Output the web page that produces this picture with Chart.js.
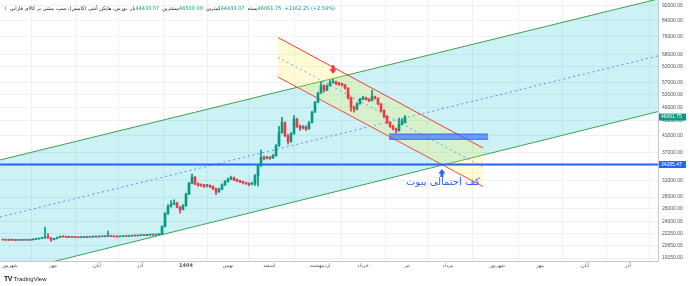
<!DOCTYPE html>
<html>
<head>
<meta charset="utf-8">
<script src="https://cdn.jsdelivr.net/npm/chart.js@4.4.1/dist/chart.umd.min.js"></script>
<style>
  html, body { margin: 0; padding: 0; background: #fff; }
  #wrap { position: relative; width: 690px; height: 286px; overflow: hidden; }
  #legend { position: absolute; left: 4px; top: 5px; font: 5px "DejaVu Sans", sans-serif; color: #131722; white-space: nowrap; direction: ltr; }
  #legend span { display: inline-block; margin-right: 3px; }
  #legend .v { color: #089981; margin-right: 0; }
  #brand { position: absolute; left: 4px; top: 275px; font: 6px "Liberation Sans", sans-serif; color: #131722; white-space: nowrap; }
  #brand b { font-weight: 900; font-size: 7px; letter-spacing: -0.5px; }
</style>
</head>
<body>
<div id="wrap">
  <canvas id="chart" width="690" height="286"></canvas>
  <div id="legend"></div>
  <div id="brand"><b>TV</b> TradingView</div>
</div>
<script>
// daily Heikin Ashi candles, one per bar index
const opens = [
  21450, 21420, 21400, 21430, 21410, 21380, 21400, 21390, 21420, 21400,
  21440, 21500, 21560, 21620, 21700, 21850, 21700, 21500, 21600, 21750,
  21900, 21850, 21800, 21780, 21800, 21760, 21740, 21780, 21800, 21790,
  21830, 21860, 21840, 21870, 21900, 21880, 21950, 21900, 21860, 21850,
  21880, 21920, 21900, 21950, 22000, 21980, 22020, 22060, 22040, 22080,
  22120, 22100, 22150, 22200, 23300, 25200, 26400, 26800, 27000, 26300,
  25900, 26500, 28500, 30500, 31700, 30400, 30200, 30100, 30000, 30100,
  29900, 29500, 28900, 29400, 30200, 30800, 31300, 31600, 31200, 31000,
  30800, 30600, 30500, 30300, 30500, 32000, 34000, 35800, 35600, 35900,
  35700, 36200, 38500, 41800, 44500, 41000, 39500, 41500, 45500, 43500,
  43000, 43400, 42800, 44500, 47500, 50500, 53500, 56000, 54500, 56000,
  57000, 57400, 56800, 56500, 56300, 55200, 52000, 49000, 48400, 50000,
  51500, 52000, 51500, 51000, 52300, 51800, 50000, 48000, 46300, 44500,
  43500, 42800, 42300, 44000, 44433.07
];
const highs = [
  21480, 21440, 21470, 21450, 21430, 21430, 21420, 21450, 21440, 21470,
  21530, 21600, 21660, 21760, 23200, 22300, 21750, 21640, 21800, 21950,
  21940, 21880, 21830, 21840, 21820, 21790, 21810, 21840, 21830, 21860,
  21900, 21890, 21900, 21940, 21920, 22650, 21990, 21930, 21890, 21910,
  21960, 21950, 21990, 22050, 22030, 22060, 22100, 22090, 22120, 22160,
  22150, 22190, 22260, 23400, 25400, 26700, 27400, 27500, 27100, 26400,
  26700, 28700, 30700, 32300, 31800, 30600, 30400, 30300, 30300, 30200,
  30000, 29600, 29600, 30400, 31000, 31500, 31900, 31700, 31300, 31100,
  30900, 30700, 30600, 30700, 32200, 34300, 37500, 36200, 36100, 36000,
  36500, 38800, 43500, 46000, 44700, 41300, 41800, 46500, 45700, 43900,
  43700, 43600, 44800, 47800, 50800, 53800, 57300, 56300, 56200, 58000,
  58300, 57600, 57200, 56900, 56400, 55300, 52200, 49300, 50300, 51800,
  52400, 52200, 51700, 54500, 52500, 51900, 50100, 48200, 46500, 44800,
  43800, 43000, 45800, 45600, 46500
];
const lows = [
  21390, 21370, 21380, 21380, 21350, 21360, 21360, 21370, 21370, 21380,
  21420, 21480, 21540, 21600, 21680, 21680, 21250, 21420, 21560, 21720,
  21820, 21760, 21740, 21760, 21720, 21700, 21720, 21760, 21750, 21770,
  21810, 21800, 21820, 21850, 21840, 21860, 21870, 21830, 21800, 21830,
  21860, 21860, 21880, 21930, 21940, 21960, 22000, 22000, 22020, 22060,
  22060, 22080, 22130, 22180, 23250, 25150, 26300, 26700, 26200, 25300,
  25850, 26450, 28400, 30400, 30200, 29900, 29900, 29700, 29800, 29700,
  29300, 28400, 28800, 29300, 30100, 30700, 31200, 31000, 30800, 30600,
  30400, 30300, 30000, 30200, 30100, 30000, 33900, 35300, 35500, 35400,
  35600, 36100, 38400, 41700, 40800, 38900, 39400, 41400, 43200, 42400,
  42800, 42300, 42700, 44400, 47400, 50400, 53400, 53800, 54300, 55800,
  56900, 56300, 56100, 55800, 54800, 51500, 47800, 47500, 48200, 49900,
  51300, 51200, 50700, 50900, 51500, 49700, 47600, 45800, 44200, 43200,
  42500, 41700, 42200, 43900, 44433.07
];
const closes = [
  21420, 21400, 21430, 21410, 21380, 21400, 21390, 21420, 21400, 21440,
  21500, 21560, 21620, 21700, 21850, 21700, 21500, 21600, 21750, 21900,
  21850, 21800, 21780, 21800, 21760, 21740, 21780, 21800, 21790, 21830,
  21860, 21840, 21870, 21900, 21880, 21950, 21900, 21860, 21850, 21880,
  21920, 21900, 21950, 22000, 21980, 22020, 22060, 22040, 22080, 22120,
  22100, 22150, 22200, 23300, 25200, 26400, 26800, 27000, 26300, 25900,
  26500, 28500, 30500, 31700, 30400, 30200, 30100, 30000, 30100, 29900,
  29500, 28900, 29400, 30200, 30800, 31300, 31600, 31200, 31000, 30800,
  30600, 30500, 30300, 30500, 32000, 34000, 35800, 35600, 35900, 35700,
  36200, 38500, 41800, 44500, 41000, 39500, 41500, 45500, 43500, 43000,
  43400, 42800, 44500, 47500, 50500, 53500, 56000, 54500, 56000, 57000,
  57400, 56800, 56500, 56300, 55200, 52000, 49000, 48400, 50000, 51500,
  52000, 51500, 51000, 52300, 51800, 50000, 48000, 46300, 44500, 43500,
  42800, 42300, 44000, 45000, 46061.75
];
const lastChange = [1162.25, 2.59];

// time axis: bar index where each month label sits, and its text
const monthTicks = [2.3, 16.7, 31.3, 45.7, 61, 75, 88.7, 105.7, 120, 134.7, 148.3, 164.7, 179, 194, 208.3];
const monthLabels = ['شهریور', 'مهر', 'آبان', 'آذر', '1404', 'بهمن', 'اسفند', 'اردیبهشت', 'خرداد', 'تیر', 'مرداد', 'شهریور', 'مهر', 'آبان', 'آذر'];
const priceTicks = [92000, 84000, 76000, 68000, 63000, 57000, 53000, 49000, 45000, 41000, 37000, 34000, 31000, 28000, 26000, 24000, 22250, 20650, 19150];

// drawings, as [barIndex, price] end points
const trendUpper = [[-1, 35260], [218.33, 96100]];
const trendMid = [[-1, 24720], [218.33, 67390]];
const trendLower = [[-1, 17240], [218.33, 47660]];
const fallUpper = [[91.67, 75610], [160, 38000]];
const fallMid = [[91.67, 66840], [160, 33750]];
const fallLower = [[91.67, 59120], [160, 29890]];
const pivotLevel = 34285.47;
const zoneTop = [[128.67, 41450], [161.67, 41450]];
const zoneBottom = [[128.67, 40110], [161.67, 40110]];
const sellArrow = [110, 63600, 60240];   // bar, tail, tip
const pivotArrow = [146.3, 31710, 33340];
const pivotNote = [146.7, 30750, 'کف احتمالی پیوت'];

const UP = '#089981';
const DOWN = '#f23645';
const BLUE = '#2962ff';
const X_MIN = -1, X_MAX = 218.33;
const Y_MIN = 18797, Y_MAX = 95502;

const fmt = v => Number(v).toFixed(2);
const n = closes.length - 1;
document.getElementById('legend').innerHTML =
  '<span>۱</span><span dir="rtl">بورس، هایکن آشی (کامس)، سپ، مبتنی بر کالای فارابی</span>' +
  '<span>باز<span class="v">' + fmt(opens[n]) + '</span></span>' +
  '<span>بیشترین<span class="v">' + fmt(highs[n]) + '</span></span>' +
  '<span>کمترین<span class="v">' + fmt(lows[n]) + '</span></span>' +
  '<span>بسته<span class="v">' + fmt(closes[n]) + '</span></span>' +
  '<span class="v">+' + fmt(lastChange[0]) + ' (+' + fmt(lastChange[1]) + '%)</span>';

const idx = closes.map((_, i) => i);
const candleColors = idx.map(i => closes[i] >= opens[i] ? UP : DOWN);
const pts = arr => arr.map(([x, y]) => ({ x, y }));

function line(data, color, extra) {
  return Object.assign({
    type: 'line', data: pts(data), borderColor: color, borderWidth: 1,
    pointRadius: 0, fill: false, tension: 0
  }, extra);
}

const axisLabels = {
  id: 'axisLabels',
  afterDraw(chart) {
    const { ctx, chartArea, scales } = chart;
    const y = scales.y, x = scales.x;
    ctx.save();
    // arrows
    const arrow = (a, color) => {
      const px = x.getPixelForValue(a[0]);
      const tail = y.getPixelForValue(a[1]);
      const tip = y.getPixelForValue(a[2]);
      const mid = tail + (tip - tail) * 0.45;
      ctx.fillStyle = color;
      ctx.beginPath();
      ctx.moveTo(px - 1.5, tail); ctx.lineTo(px + 1.5, tail);
      ctx.lineTo(px + 1.5, mid); ctx.lineTo(px + 3.5, mid);
      ctx.lineTo(px, tip); ctx.lineTo(px - 3.5, mid);
      ctx.lineTo(px - 1.5, mid); ctx.closePath();
      ctx.fill();
    };
    arrow(sellArrow, DOWN);
    arrow(pivotArrow, BLUE);
    ctx.font = '10px "DejaVu Sans", sans-serif';
    ctx.fillStyle = BLUE;
    ctx.textAlign = 'center';
    ctx.textBaseline = 'middle';
    ctx.direction = 'rtl';
    ctx.fillText(pivotNote[2], x.getPixelForValue(pivotNote[0]), y.getPixelForValue(pivotNote[1]));
    ctx.direction = 'ltr';
    // price tags on the axis
    const tag = (value, bg) => {
      const py = y.getPixelForValue(value);
      ctx.fillStyle = bg;
      ctx.fillRect(chartArea.right + 1, py - 3.5, 27, 7);
      ctx.fillStyle = '#fff';
      ctx.font = '5px "Liberation Sans", sans-serif';
      ctx.textAlign = 'left';
      ctx.fillText(fmt(value), chartArea.right + 3, py);
    };
    tag(closes[n], UP);
    tag(pivotLevel, BLUE);
    ctx.restore();
  }
};

new Chart(document.getElementById('chart'), {
  type: 'bar',
  data: {
    datasets: [
      {
        data: idx.map(i => ({ x: i, y: [opens[i], closes[i]] })),
        backgroundColor: candleColors, barThickness: 2, minBarLength: 1,
        grouped: false, order: 0
      },
      {
        data: idx.map(i => ({ x: i, y: [lows[i], highs[i]] })),
        backgroundColor: candleColors, barThickness: 1,
        grouped: false, order: 1
      },
      line(trendUpper, '#43a047', { fill: '+1', backgroundColor: 'rgba(0,188,212,0.2)', order: 9 }),
      line(trendLower, '#43a047', { order: 9 }),
      line(trendMid, 'rgba(41,98,255,0.7)', { borderDash: [2, 3], order: 8 }),
      line(fallUpper, '#f23645', { fill: '+1', backgroundColor: 'rgba(255,235,59,0.22)', order: 7 }),
      line(fallLower, '#f23645', { order: 7 }),
      line(fallMid, 'rgba(41,98,255,0.6)', { borderDash: [2, 3], order: 6 }),
      line([[X_MIN, pivotLevel], [X_MAX, pivotLevel]], BLUE, { borderWidth: 2, order: 5 }),
      line(zoneTop, 'rgba(41,98,255,0.9)', { fill: '+1', backgroundColor: 'rgba(41,98,255,0.6)', order: 4 }),
      line(zoneBottom, 'rgba(41,98,255,0.9)', { order: 4 })
    ]
  },
  options: {
    responsive: false,
    animation: false,
    devicePixelRatio: 1,
    layout: { padding: 0, autoPadding: false },
    plugins: { legend: { display: false }, tooltip: { enabled: false } },
    scales: {
      x: {
        type: 'linear', min: X_MIN, max: X_MAX, bounds: 'data', offset: false,
        afterBuildTicks: s => { s.ticks = monthTicks.map(v => ({ value: v })); },
        afterFit: s => { s.height = 25; s.paddingLeft = 0; s.paddingRight = 0; },
        ticks: {
          autoSkip: false, maxRotation: 0, padding: 2, color: '#50535e',
          callback: (v, i) => monthLabels[i],
          font: c => ({ size: 5, family: '"DejaVu Sans", sans-serif', weight: monthLabels[c.index] === '1404' ? 'bold' : 'normal' })
        },
        grid: { color: '#eef1f6', drawTicks: false },
        border: { color: '#c5c8d0' }
      },
      y: {
        type: 'logarithmic', position: 'right', min: Y_MIN, max: Y_MAX, bounds: 'data',
        afterBuildTicks: s => { s.ticks = priceTicks.map(v => ({ value: v })); },
        afterFit: s => { s.width = 32; s.paddingTop = 0; s.paddingBottom = 0; },
        ticks: {
          autoSkip: false, padding: 4, color: '#50535e',
          callback: v => fmt(v),
          font: { size: 5, family: '"Liberation Sans", sans-serif' }
        },
        grid: { color: '#eef1f6', drawTicks: false },
        border: { color: '#c5c8d0' }
      }
    }
  },
  plugins: [axisLabels]
});
</script>
</body>
</html>
